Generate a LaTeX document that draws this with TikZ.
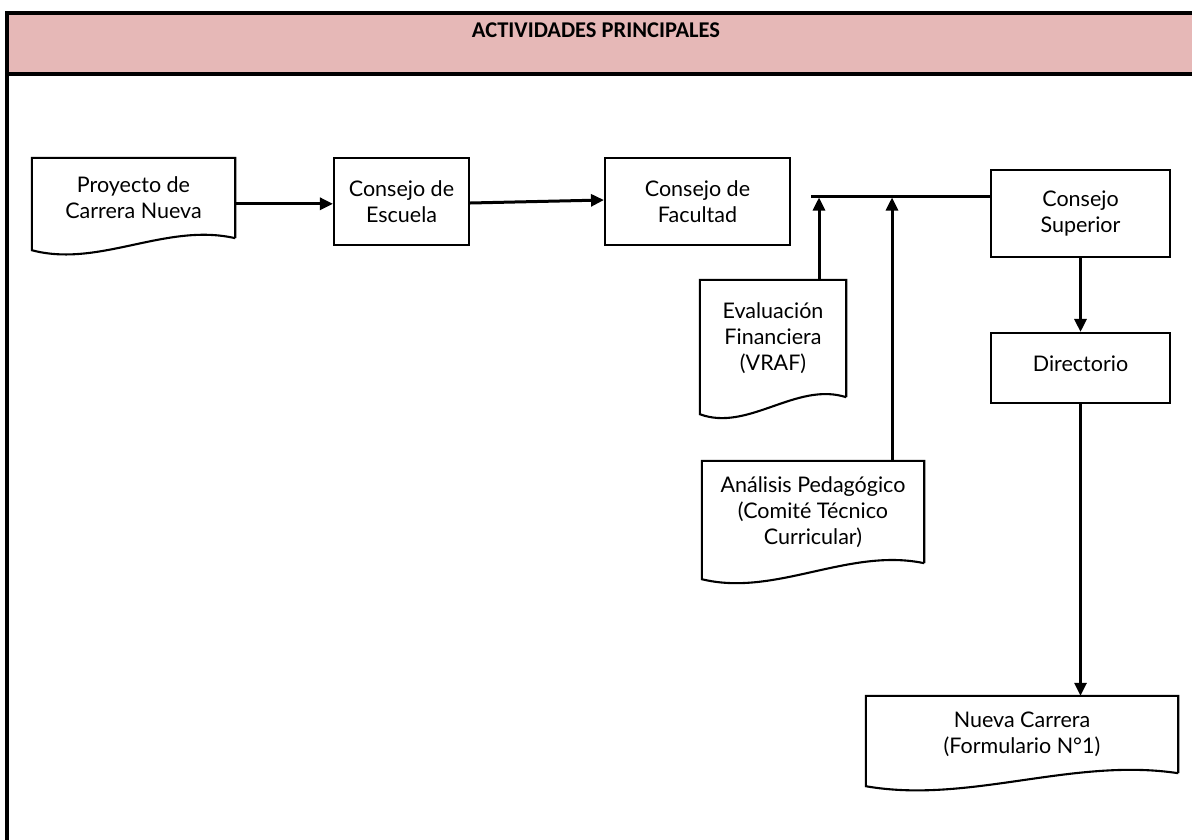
\documentclass[tikz,border=0pt]{standalone}
\usepackage{fontspec}
\setmainfont{Lato}
\newfontfamily\titlefont{Carlito}
\usetikzlibrary{arrows.meta,calc}
\definecolor{bandpink}{HTML}{E6B8B7}
\tikzset{
  txt/.style={align=center,font=\fontsize{21.5}{26}\selectfont,inner sep=0pt},
  box/.style={txt,draw,line width=2.1pt},
  docbox/.style={txt},
  conn/.style={line width=3pt,-{Triangle[length=13pt,width=12pt]}},
  plainconn/.style={line width=3pt},
  frameline/.style={line width=3.2pt},
  docline/.style={line width=2.1pt,line join=miter}
}
\newcommand\docoutline[2]{%
  \draw[docline] (#1.south east) -- (#1.north east) -- (#1.north west) -- ($(#1.south west)+(0,#2)$)
    .. controls ($(#1.south west)!0.33!(#1.south east)+(0,{#2+18})$) and ($(#1.south west)!0.66!(#1.south east)+(0,-16)$) .. (#1.south east);
}
\begin{document}
\begin{tikzpicture}[x=1pt,y=-1pt]
\useasboundingbox (0,0) rectangle (1192,839);
% frame
\fill[bandpink] (7,13) rectangle (1195,74);
\draw[frameline] (1195,13) -- (7,13) -- (7,845);
\draw[frameline] (7,74) -- (1195,74);
\node[font=\titlefont\bfseries\fontsize{22.5}{24}\selectfont] (title) at (596,30) {ACTIVIDADES PRINCIPALES};
% nodes
\node[docbox,minimum width=203pt,minimum height=80pt] (proj) at (133.5,198) {Proyecto de\\Carrera Nueva};
\node[box,minimum width=135pt,minimum height=87pt] (esc) at (401.5,201.5) {Consejo de\\Escuela};
\node[box,minimum width=185pt,minimum height=87pt] (fac) at (697.5,201.5) {Consejo de\\Facultad};
\node[box,minimum width=179pt,minimum height=87pt] (sup) at (1080.5,213.5) {Consejo\\Superior};
\node[box,minimum width=179pt,minimum height=70pt,text depth=0pt] (dir) at (1080.5,368) {\raisebox{9pt}{Directorio}};
\node[docbox,minimum width=146pt,minimum height=117pt] (eval) at (773,338.5) {Evaluación\\Financiera\\(VRAF)};
\node[docbox,minimum width=222pt,minimum height=102pt] (ana) at (813,512) {Análisis Pedagógico\\(Comité Técnico\\Curricular)};
\node[docbox,minimum width=312pt,minimum height=77pt] (nue) at (1022,734.5) {Nueva Carrera\\(Formulario N°1)};
\docoutline{proj}{12}
\docoutline{eval}{17}
\docoutline{ana}{16}
\docoutline{nue}{13}
% connectors
\coordinate (a1) at ($(proj.north east)+(0,46)$);
\draw[conn] (a1) -- (a1 -| esc.west);
\draw[conn] ([yshift=-1.5pt]esc.east) -- ([yshift=1.5pt]fac.west);
\coordinate (busL) at (811,196);
\draw[plainconn] (busL) -- (busL -| sup.west);
\coordinate (evx) at (819,0);
\coordinate (anx) at (892,0);
\draw[conn] (evx |- eval.north) -- ([yshift=-1.5pt]evx |- busL);
\draw[conn] (anx |- ana.north) -- ([yshift=-1.5pt]anx |- busL);
\draw[conn] (sup.south) -- (dir.north);
\draw[conn] (dir.south) -- (dir.south |- nue.north);
\end{tikzpicture}
\end{document}
